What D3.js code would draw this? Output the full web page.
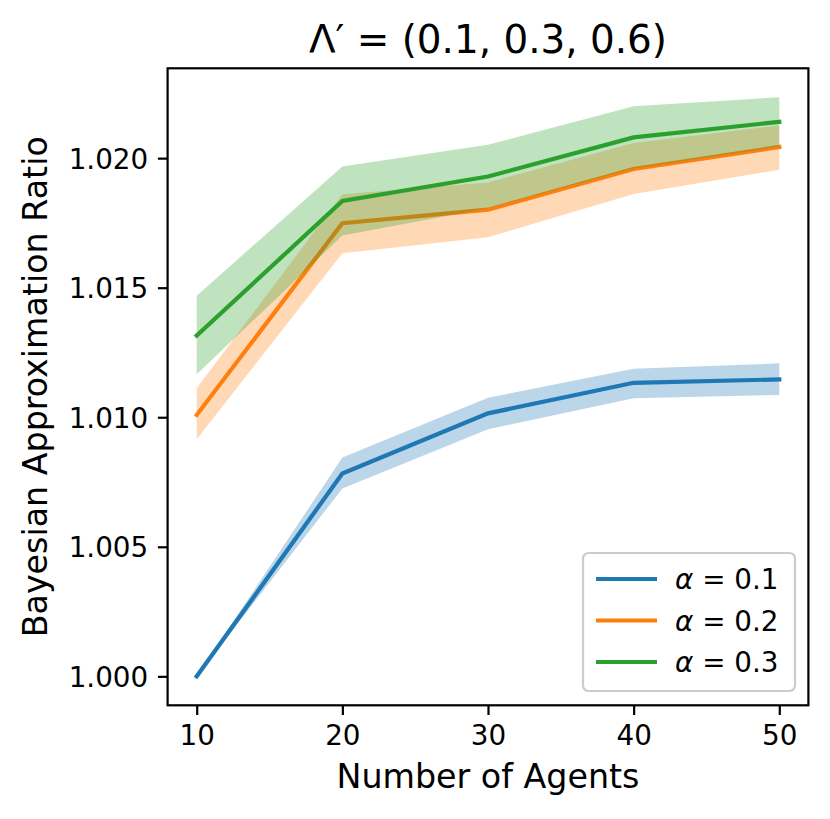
<!DOCTYPE html>
<html lang="en">
<head>
<meta charset="utf-8">
<title>Bayesian Approximation Ratio</title>
<script src="https://d3js.org/d3.v7.min.js"></script>
<style>
  body { margin: 0; background: #fff; }
  svg { display: block; font-family: "DejaVu Sans", sans-serif; }
  .axis path { display: none; }
  .axis line { stroke: #000; stroke-width: 2.2; }
  .axis text { fill: #000; font-size: 27.8px; font-family: "DejaVu Sans", sans-serif; }
</style>
</head>
<body>
<script>
// x values
var agents = [10, 20, 30, 40, 50];

// alpha = 0.1
var mean1 = [1.0000, 1.00783, 1.01015, 1.01133, 1.01146];
var lower1 = [1.0000, 1.00725, 1.00954, 1.01073, 1.01086];
var upper1 = [1.0000, 1.00845, 1.01075, 1.01187, 1.01208];

// alpha = 0.2
var mean2 = [1.01009, 1.01749, 1.01801, 1.01958, 1.02043];
var lower2 = [1.00915, 1.01633, 1.01695, 1.01862, 1.01955];
var upper2 = [1.01112, 1.01861, 1.01906, 1.02058, 1.02126];

// alpha = 0.3
var mean3 = [1.01315, 1.01835, 1.01929, 1.02080, 1.02140];
var lower3 = [1.01166, 1.01701, 1.01807, 1.01960, 1.02044];
var upper3 = [1.01469, 1.01968, 1.02052, 1.02200, 1.02235];

var seriesLabels = ["0.1", "0.2", "0.3"];
var colors = ["#1f77b4", "#ff7f0e", "#2ca02c"];
var xTicks = [10, 20, 30, 40, 50];
var yTicks = [1.000, 1.005, 1.010, 1.015, 1.020];

var W = 830, H = 819;
// plot box edges (note: "top" is taken by window.top, so prefix them)
var pLeft = 167.6, pRight = 808.4, pTop = 68.3, pBottom = 705.3;

var series = [
  { mean: mean1, lo: lower1, hi: upper1 },
  { mean: mean2, lo: lower2, hi: upper2 },
  { mean: mean3, lo: lower3, hi: upper3 }
];

// matplotlib style 5% margins
var xPad = (d3.max(agents) - d3.min(agents)) * 0.05;
var yMin = d3.min(series, function(s) { return d3.min(s.lo); });
var yMax = d3.max(series, function(s) { return d3.max(s.hi); });
var yPad = (yMax - yMin) * 0.05;

var x = d3.scaleLinear()
  .domain([d3.min(agents) - xPad, d3.max(agents) + xPad])
  .range([pLeft, pRight]);
var y = d3.scaleLinear()
  .domain([yMin - yPad, yMax + yPad])
  .range([pBottom, pTop]);

var svg = d3.select("body").append("svg")
  .attr("width", W)
  .attr("height", H);

var area = d3.area()
  .x(function(d) { return x(d.x); })
  .y0(function(d) { return y(d.lo); })
  .y1(function(d) { return y(d.hi); });
var line = d3.line()
  .x(function(d) { return x(d.x); })
  .y(function(d) { return y(d.m); });

// bands and lines
series.forEach(function(s, i) {
  var pts = agents.map(function(a, k) {
    return { x: a, m: s.mean[k], lo: s.lo[k], hi: s.hi[k] };
  });
  svg.append("path")
    .datum(pts)
    .attr("d", area)
    .attr("fill", colors[i])
    .attr("fill-opacity", 0.3);
  svg.append("path")
    .datum(pts)
    .attr("d", line)
    .attr("fill", "none")
    .attr("stroke", colors[i])
    .attr("stroke-width", 4.2)
    .attr("stroke-linecap", "square");
});

// axes
svg.append("g")
  .attr("class", "axis")
  .attr("transform", "translate(0," + pBottom + ")")
  .call(d3.axisBottom(x).tickValues(xTicks).tickSize(9.7).tickPadding(9.7).tickFormat(d3.format("d")))
  .selectAll("text").attr("dy", "0.74em");

svg.append("g")
  .attr("class", "axis")
  .attr("transform", "translate(" + pLeft + ",0)")
  .call(d3.axisLeft(y).tickValues(yTicks).tickSize(9.7).tickPadding(9.7).tickFormat(d3.format(".3f")))
  .selectAll("text").attr("dy", "0.36em");

// frame
svg.append("rect")
  .attr("x", pLeft)
  .attr("y", pTop)
  .attr("width", pRight - pLeft)
  .attr("height", pBottom - pTop)
  .attr("fill", "none")
  .attr("stroke", "#000")
  .attr("stroke-width", 2.2);

// axis labels
svg.append("text")
  .attr("x", (pLeft + pRight) / 2)
  .attr("y", 788)
  .attr("text-anchor", "middle")
  .style("font-size", "33.3px")
  .text("Number of Agents");

svg.append("text")
  .attr("transform", "translate(47," + ((pTop + pBottom) / 2) + ") rotate(-90)")
  .attr("text-anchor", "middle")
  .style("font-size", "33.3px")
  .text("Bayesian Approximation Ratio");

// title
svg.append("text")
  .attr("x", (pLeft + pRight) / 2)
  .attr("y", 53)
  .attr("text-anchor", "middle")
  .style("font-size", "38.9px")
  .text("\u039B\u2032 = (0.1, 0.3, 0.6)");

// legend
var lgX = 583, lgY = 553, lgW = 212, lgH = 138;
svg.append("rect")
  .attr("x", lgX)
  .attr("y", lgY)
  .attr("width", lgW)
  .attr("height", lgH)
  .attr("rx", 5.5)
  .attr("fill", "#fff")
  .attr("fill-opacity", 0.8)
  .attr("stroke", "#cccccc")
  .attr("stroke-width", 2.2);

var rowY = d3.scaleLinear().domain([0, 2]).range([579, 662]);
var lg = svg.selectAll(".lgItem")
  .data(seriesLabels)
  .enter()
  .append("g")
  .attr("class", "lgItem")
  .attr("transform", function(d, i) { return "translate(" + lgX + "," + rowY(i) + ")"; });
lg.append("line")
  .attr("x1", 13)
  .attr("x2", 74)
  .attr("stroke", function(d, i) { return colors[i]; })
  .attr("stroke-width", 4.2);
var lt = lg.append("text")
  .attr("x", 92)
  .attr("dy", "0.36em")
  .style("font-size", "27.8px");
lt.append("tspan").style("font-style", "italic").text("\u03B1");
lt.append("tspan").text(function(d) { return " = " + d; });
</script>
</body>
</html>
